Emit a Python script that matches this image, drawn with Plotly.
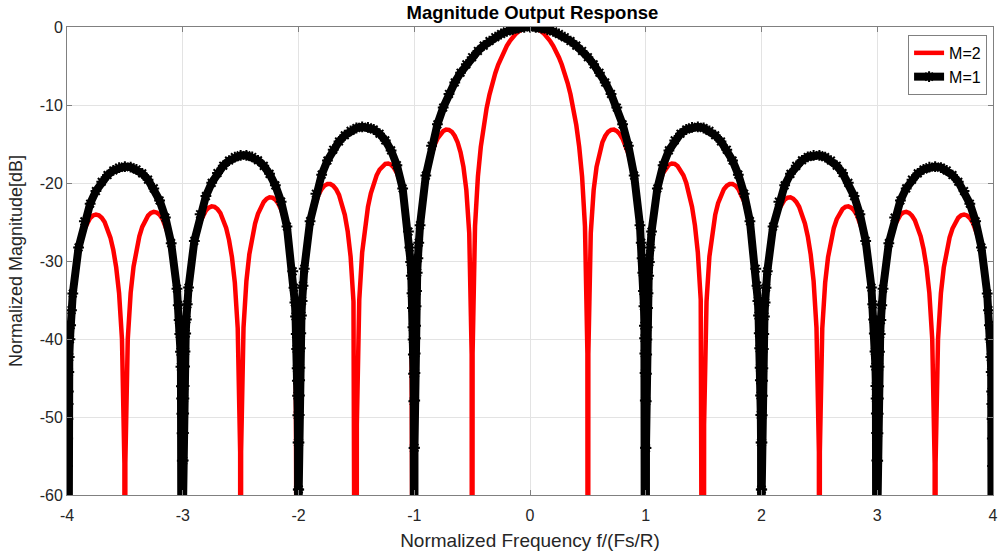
import plotly.graph_objects as go

# ---------------- data ----------------
F_M1 = [
    -4, -3.99805, -3.99609, -3.99414, -3.99219, -3.99023, -3.98828, -3.98438, -3.98047, -3.97461, -3.96875, -3.96094,
    -3.95, -3.9, -3.85, -3.8, -3.75, -3.7, -3.65, -3.6, -3.55, -3.5, -3.45, -3.4, -3.35, -3.3, -3.25, -3.2, -3.15, -3.1, -3.05,
    -3.03906, -3.03125, -3.02539, -3.01953, -3.01563, -3.01172, -3.00977, -3.00781, -3.00586, -3.00391, -3.00195, -3,
    -2.99805, -2.99609, -2.99414, -2.99219, -2.99023, -2.98828, -2.98438, -2.98047, -2.97461, -2.96875, -2.96094,
    -2.95, -2.9, -2.85, -2.8, -2.75, -2.7, -2.65, -2.6, -2.55, -2.5, -2.45, -2.4, -2.35, -2.3, -2.25, -2.2, -2.15, -2.1, -2.05,
    -2.03906, -2.03125, -2.02539, -2.01953, -2.01563, -2.01172, -2.00977, -2.00781, -2.00586, -2.00391, -2.00195, -2,
    -1.99805, -1.99609, -1.99414, -1.99219, -1.99023, -1.98828, -1.98438, -1.98047, -1.97461, -1.96875, -1.96094,
    -1.95, -1.9, -1.85, -1.8, -1.75, -1.7, -1.65, -1.6, -1.55, -1.5, -1.45, -1.4, -1.35, -1.3, -1.25, -1.2, -1.15, -1.1, -1.05,
    -1.03906, -1.03125, -1.02539, -1.01953, -1.01563, -1.01172, -1.00977, -1.00781, -1.00586, -1.00391, -1.00195, -1,
    -0.99805, -0.99609, -0.99414, -0.99219, -0.99023, -0.98828, -0.98438, -0.98047, -0.97461, -0.96875, -0.96094,
    -0.95, -0.9, -0.85, -0.8, -0.75, -0.7, -0.65, -0.6, -0.55, -0.5, -0.45, -0.4, -0.35, -0.3, -0.25, -0.2, -0.15, -0.1, -0.05,
    0,
    0.05, 0.1, 0.15, 0.2, 0.25, 0.3, 0.35, 0.4, 0.45, 0.5, 0.55, 0.6, 0.65, 0.7, 0.75, 0.8, 0.85, 0.9, 0.95,
    0.96094, 0.96875, 0.97461, 0.98047, 0.98438, 0.98828, 0.99023, 0.99219, 0.99414, 0.99609, 0.99805, 1,
    1.00195, 1.00391, 1.00586, 1.00781, 1.00977, 1.01172, 1.01563, 1.01953, 1.02539, 1.03125, 1.03906,
    1.05, 1.1, 1.15, 1.2, 1.25, 1.3, 1.35, 1.4, 1.45, 1.5, 1.55, 1.6, 1.65, 1.7, 1.75, 1.8, 1.85, 1.9, 1.95,
    1.96094, 1.96875, 1.97461, 1.98047, 1.98438, 1.98828, 1.99023, 1.99219, 1.99414, 1.99609, 1.99805, 2,
    2.00195, 2.00391, 2.00586, 2.00781, 2.00977, 2.01172, 2.01563, 2.01953, 2.02539, 2.03125, 2.03906,
    2.05, 2.1, 2.15, 2.2, 2.25, 2.3, 2.35, 2.4, 2.45, 2.5, 2.55, 2.6, 2.65, 2.7, 2.75, 2.8, 2.85, 2.9, 2.95,
    2.96094, 2.96875, 2.97461, 2.98047, 2.98438, 2.98828, 2.99023, 2.99219, 2.99414, 2.99609, 2.99805, 3,
    3.00195, 3.00391, 3.00586, 3.00781, 3.00977, 3.01172, 3.01563, 3.01953, 3.02539, 3.03125, 3.03906,
    3.05, 3.1, 3.15, 3.2, 3.25, 3.3, 3.35, 3.4, 3.45, 3.5, 3.55, 3.6, 3.65, 3.7, 3.75, 3.8, 3.85, 3.9, 3.95,
    3.96094, 3.96875, 3.97461, 3.98047, 3.98438, 3.98828, 3.99023, 3.99219, 3.99414, 3.99609, 3.99805, 4,
]
DB_M1 = [
    -150, -62.30, -56.28, -52.76, -50.26, -48.32, -46.74, -44.24, -42.31, -40.03, -38.23, -36.30,
    -34.17, -28.26, -24.91, -22.65, -21.03, -19.84, -18.98, -18.39, -18.03, -17.89, -17.97, -18.26, -18.77, -19.57, -20.69, -22.24, -24.43, -27.71, -33.55,
    -35.66, -37.58, -39.37, -41.64, -43.56, -46.06, -47.64, -49.58, -52.08, -55.60, -61.62, -150,
    -61.60, -55.58, -52.06, -49.56, -47.62, -46.04, -43.54, -41.60, -39.31, -37.50, -35.56,
    -33.41, -27.42, -24.00, -21.68, -19.98, -18.72, -17.78, -17.12, -16.68, -16.46, -16.45, -16.66, -17.09, -17.80, -18.83, -20.30, -22.39, -25.58, -31.33,
    -33.42, -35.32, -37.10, -39.36, -41.28, -43.76, -45.34, -47.27, -49.77, -53.28, -59.30, -150,
    -59.28, -53.26, -49.74, -47.24, -45.30, -43.70, -41.20, -39.27, -37.00, -35.12, -33.16,
    -30.99, -24.89, -21.37, -18.93, -17.12, -15.73, -14.67, -13.88, -13.31, -12.95, -12.80, -12.86, -13.14, -13.68, -14.54, -15.82, -17.72, -20.70, -26.23,
    -28.27, -30.14, -31.88, -34.12, -36.02, -38.49, -40.06, -41.99, -44.47, -47.98, -53.98, -150,
    -53.94, -47.90, -44.37, -41.85, -39.90, -38.30, -35.80, -33.85, -31.50, -29.64, -27.65,
    -25.41, -19.05, -15.23, -12.48, -10.33, -8.58, -7.11, -5.86, -4.79, -3.87, -3.07, -2.39, -1.80, -1.31, -0.90, -0.57, -0.32, -0.14, -0.04,
    0,
    -0.04, -0.14, -0.32, -0.57, -0.90, -1.31, -1.80, -2.39, -3.07, -3.87, -4.79, -5.86, -7.11, -8.58, -10.33, -12.48, -15.23, -19.05, -25.41,
    -27.65, -29.64, -31.50, -33.85, -35.80, -38.30, -39.90, -41.85, -44.37, -47.90, -53.94, -150,
    -53.98, -47.98, -44.47, -41.99, -40.06, -38.49, -36.02, -34.12, -31.88, -30.14, -28.27,
    -26.23, -20.70, -17.72, -15.82, -14.54, -13.68, -13.14, -12.86, -12.80, -12.95, -13.31, -13.88, -14.67, -15.73, -17.12, -18.93, -21.37, -24.89, -30.99,
    -33.16, -35.12, -37.00, -39.27, -41.20, -43.70, -45.30, -47.24, -49.74, -53.26, -59.28, -150,
    -59.30, -53.28, -49.77, -47.27, -45.34, -43.76, -41.28, -39.36, -37.10, -35.32, -33.42,
    -31.33, -25.58, -22.39, -20.30, -18.83, -17.80, -17.09, -16.66, -16.45, -16.46, -16.68, -17.12, -17.78, -18.72, -19.98, -21.68, -24.00, -27.42, -33.41,
    -35.56, -37.50, -39.31, -41.60, -43.54, -46.04, -47.62, -49.56, -52.06, -55.58, -61.60, -150,
    -61.62, -55.60, -52.08, -49.58, -47.64, -46.06, -43.56, -41.64, -39.37, -37.58, -35.66,
    -33.55, -27.71, -24.43, -22.24, -20.69, -19.57, -18.77, -18.26, -17.97, -17.89, -18.03, -18.39, -18.98, -19.84, -21.03, -22.65, -24.91, -28.26, -34.17,
    -36.30, -38.23, -40.03, -42.31, -44.24, -46.74, -48.32, -50.26, -52.76, -56.28, -62.30, -150,
]

F_M2 = [
    -4, -3.996, -3.975, -3.95, -3.925, -3.9, -3.875, -3.85, -3.825, -3.8, -3.775, -3.75, -3.725, -3.7, -3.675, -3.65, -3.625, -3.6, -3.575, -3.55, -3.525, -3.504,
    -3.5, -3.496, -3.475, -3.45, -3.425, -3.4, -3.375, -3.35, -3.325, -3.3, -3.275, -3.25, -3.225, -3.2, -3.175, -3.15, -3.125, -3.1, -3.075, -3.05, -3.025, -3.004,
    -3, -2.996, -2.975, -2.95, -2.925, -2.9, -2.875, -2.85, -2.825, -2.8, -2.775, -2.75, -2.725, -2.7, -2.675, -2.65, -2.625, -2.6, -2.575, -2.55, -2.525, -2.504,
    -2.5, -2.496, -2.475, -2.45, -2.425, -2.4, -2.375, -2.35, -2.325, -2.3, -2.275, -2.25, -2.225, -2.2, -2.175, -2.15, -2.125, -2.1, -2.075, -2.05, -2.025, -2.004,
    -2, -1.996, -1.975, -1.95, -1.925, -1.9, -1.875, -1.85, -1.825, -1.8, -1.775, -1.75, -1.725, -1.7, -1.675, -1.65, -1.625, -1.6, -1.575, -1.55, -1.525, -1.504,
    -1.5, -1.496, -1.475, -1.45, -1.425, -1.4, -1.375, -1.35, -1.325, -1.3, -1.275, -1.25, -1.225, -1.2, -1.175, -1.15, -1.125, -1.1, -1.075, -1.05, -1.025, -1.004,
    -1, -0.996, -0.975, -0.95, -0.925, -0.9, -0.875, -0.85, -0.825, -0.8, -0.775, -0.75, -0.725, -0.7, -0.675, -0.65, -0.625, -0.6, -0.575, -0.55, -0.525, -0.504,
    -0.5, -0.496, -0.475, -0.45, -0.425, -0.4, -0.375, -0.35, -0.325, -0.3, -0.275, -0.25, -0.225, -0.2, -0.175, -0.15, -0.125, -0.1, -0.075, -0.05, -0.025,
    0,
    0.025, 0.05, 0.075, 0.1, 0.125, 0.15, 0.175, 0.2, 0.225, 0.25, 0.275, 0.3, 0.325, 0.35, 0.375, 0.4, 0.425, 0.45, 0.475, 0.496, 0.5,
    0.504, 0.525, 0.55, 0.575, 0.6, 0.625, 0.65, 0.675, 0.7, 0.725, 0.75, 0.775, 0.8, 0.825, 0.85, 0.875, 0.9, 0.925, 0.95, 0.975, 0.996, 1,
    1.004, 1.025, 1.05, 1.075, 1.1, 1.125, 1.15, 1.175, 1.2, 1.225, 1.25, 1.275, 1.3, 1.325, 1.35, 1.375, 1.4, 1.425, 1.45, 1.475, 1.496, 1.5,
    1.504, 1.525, 1.55, 1.575, 1.6, 1.625, 1.65, 1.675, 1.7, 1.725, 1.75, 1.775, 1.8, 1.825, 1.85, 1.875, 1.9, 1.925, 1.95, 1.975, 1.996, 2,
    2.004, 2.025, 2.05, 2.075, 2.1, 2.125, 2.15, 2.175, 2.2, 2.225, 2.25, 2.275, 2.3, 2.325, 2.35, 2.375, 2.4, 2.425, 2.45, 2.475, 2.496, 2.5,
    2.504, 2.525, 2.55, 2.575, 2.6, 2.625, 2.65, 2.675, 2.7, 2.725, 2.75, 2.775, 2.8, 2.825, 2.85, 2.875, 2.9, 2.925, 2.95, 2.975, 2.996, 3,
    3.004, 3.025, 3.05, 3.075, 3.1, 3.125, 3.15, 3.175, 3.2, 3.225, 3.25, 3.275, 3.3, 3.325, 3.35, 3.375, 3.4, 3.425, 3.45, 3.475, 3.496, 3.5,
    3.504, 3.525, 3.55, 3.575, 3.6, 3.625, 3.65, 3.675, 3.7, 3.725, 3.75, 3.775, 3.8, 3.825, 3.85, 3.875, 3.9, 3.925, 3.95, 3.975, 3.996, 4,
]
DB_M2 = [
    -150, -56.08, -40.19, -34.28, -30.94, -28.70, -27.09, -25.91, -25.06, -24.49, -24.16, -24.04, -24.14, -24.46, -25.01, -25.84, -27.00, -28.59, -30.82, -34.14, -40.04, -55.91,
    -150, -55.91, -40.01, -34.08, -30.72, -28.46, -26.83, -25.63, -24.77, -24.19, -23.84, -23.70, -23.78, -24.08, -24.62, -25.43, -26.57, -28.15, -30.36, -33.66, -39.54, -55.40,
    -150, -55.39, -39.47, -33.52, -30.14, -27.86, -26.21, -25.00, -24.12, -23.52, -23.15, -22.99, -23.06, -23.34, -23.85, -24.64, -25.76, -27.32, -29.51, -32.79, -38.65, -54.49,
    -150, -54.47, -38.53, -32.56, -29.16, -26.86, -25.19, -23.95, -23.05, -22.42, -22.02, -21.84, -21.88, -22.14, -22.63, -23.39, -24.49, -26.02, -28.18, -31.44, -37.27, -53.08,
    -150, -53.06, -37.10, -31.10, -27.67, -25.33, -23.63, -22.37, -21.43, -20.77, -20.34, -20.13, -20.13, -20.35, -20.80, -21.53, -22.59, -24.08, -26.20, -29.42, -35.21, -50.99,
    -150, -50.95, -34.95, -28.91, -25.44, -23.06, -21.31, -20.00, -19.01, -18.30, -17.82, -17.55, -17.50, -17.66, -18.05, -18.72, -19.71, -21.14, -23.19, -26.34, -32.05, -47.77,
    -150, -47.71, -31.64, -25.52, -21.95, -19.49, -17.64, -16.23, -15.14, -14.32, -13.72, -13.34, -13.16, -13.19, -13.44, -13.97, -14.80, -16.07, -17.93, -20.90, -26.41, -41.95,
    -150, -41.82, -25.56, -19.18, -15.35, -12.59, -10.42, -8.66, -7.18, -5.92, -4.84, -3.91, -3.10, -2.41, -1.82, -1.32, -0.91, -0.58, -0.32, -0.14, -0.04,
    0,
    -0.04, -0.14, -0.32, -0.58, -0.91, -1.32, -1.82, -2.41, -3.10, -3.91, -4.84, -5.92, -7.18, -8.66, -10.42, -12.59, -15.35, -19.18, -25.56, -41.82, -150,
    -41.95, -26.41, -20.90, -17.93, -16.07, -14.80, -13.97, -13.44, -13.19, -13.16, -13.34, -13.72, -14.32, -15.14, -16.23, -17.64, -19.49, -21.95, -25.52, -31.64, -47.71, -150,
    -47.77, -32.05, -26.34, -23.19, -21.14, -19.71, -18.72, -18.05, -17.66, -17.50, -17.55, -17.82, -18.30, -19.01, -20.00, -21.31, -23.06, -25.44, -28.91, -34.95, -50.95, -150,
    -50.99, -35.21, -29.42, -26.20, -24.08, -22.59, -21.53, -20.80, -20.35, -20.13, -20.13, -20.34, -20.77, -21.43, -22.37, -23.63, -25.33, -27.67, -31.10, -37.10, -53.06, -150,
    -53.08, -37.27, -31.44, -28.18, -26.02, -24.49, -23.39, -22.63, -22.14, -21.88, -21.84, -22.02, -22.42, -23.05, -23.95, -25.19, -26.86, -29.16, -32.56, -38.53, -54.47, -150,
    -54.49, -38.65, -32.79, -29.51, -27.32, -25.76, -24.64, -23.85, -23.34, -23.06, -22.99, -23.15, -23.52, -24.12, -25.00, -26.21, -27.86, -30.14, -33.52, -39.47, -55.39, -150,
    -55.40, -39.54, -33.66, -30.36, -28.15, -26.57, -25.43, -24.62, -24.08, -23.78, -23.70, -23.84, -24.19, -24.77, -25.63, -26.83, -28.46, -30.72, -34.08, -40.01, -55.91, -150,
    -55.91, -40.04, -34.14, -30.82, -28.59, -27.00, -25.84, -25.01, -24.46, -24.14, -24.04, -24.16, -24.49, -25.06, -25.91, -27.09, -28.70, -30.94, -34.28, -40.19, -56.08, -150,
]

X_TICKS = [-4, -3, -2, -1, 0, 1, 2, 3, 4]
Y_TICKS = [0, -10, -20, -30, -40, -50, -60]
SERIES_NAMES = ["M=2", "M=1"]

assert len(F_M1) == len(DB_M1), (len(F_M1), len(DB_M1))
assert len(F_M2) == len(DB_M2), (len(F_M2), len(DB_M2))

# ---------------- figure ----------------
FONT = "Liberation Sans, Arial, Helvetica, sans-serif"
AX_COLOR = "#808080"
TXT_COLOR = "#262626"

fig = go.Figure()
fig.add_trace(go.Scatter(
    x=F_M2, y=DB_M2, name=SERIES_NAMES[0], mode="lines",
    line=dict(color="#ff0000", width=4.5),
))
fig.add_trace(go.Scatter(
    x=F_M1, y=DB_M1, name=SERIES_NAMES[1], mode="lines+markers",
    line=dict(color="#000000", width=8),
    marker=dict(symbol="asterisk-open", size=9, color="#000000",
                line=dict(color="#000000", width=2)),
))

axis_common = dict(
    showgrid=True, gridcolor="#e3e3e3", gridwidth=1,
    showline=True, linecolor=AX_COLOR, linewidth=1, mirror="ticks",
    ticks="inside", ticklen=5, tickcolor=AX_COLOR,
    zeroline=False,
    tickfont=dict(family=FONT, size=16, color=TXT_COLOR),
)

fig.update_xaxes(
    range=[-4, 4], tickvals=X_TICKS, ticktext=[str(v) for v in X_TICKS],
    ticklabelstandoff=6,
    title=dict(text="Normalized Frequency f/(Fs/R)", standoff=10,
               font=dict(family=FONT, size=19, color=TXT_COLOR)),
    **axis_common,
)
fig.update_yaxes(
    range=[-60, 0], tickvals=Y_TICKS, ticktext=[str(v) for v in Y_TICKS],
    title=dict(text="Normalized Magnitude[dB]", standoff=12,
               font=dict(family=FONT, size=18, color=TXT_COLOR)),
    **axis_common,
)

fig.update_layout(
    width=1004, height=558,
    margin=dict(l=67, r=6, t=27, b=63),
    paper_bgcolor="white", plot_bgcolor="white",
    title=dict(text="<b>Magnitude Output Response</b>", x=0.5303, xanchor="center",
               y=1 - 13 / 558, yanchor="middle", yref="container",
               font=dict(family=FONT, size=18.5, color="#000000")),
    legend=dict(x=0.9936, xanchor="right", y=0.983, yanchor="top",
                bgcolor="white", bordercolor=AX_COLOR, borderwidth=1,
                font=dict(family=FONT, size=16, color="#000000"),
                itemwidth=30, tracegroupgap=0),
    showlegend=True,
)

fig.write_html("out.html")
